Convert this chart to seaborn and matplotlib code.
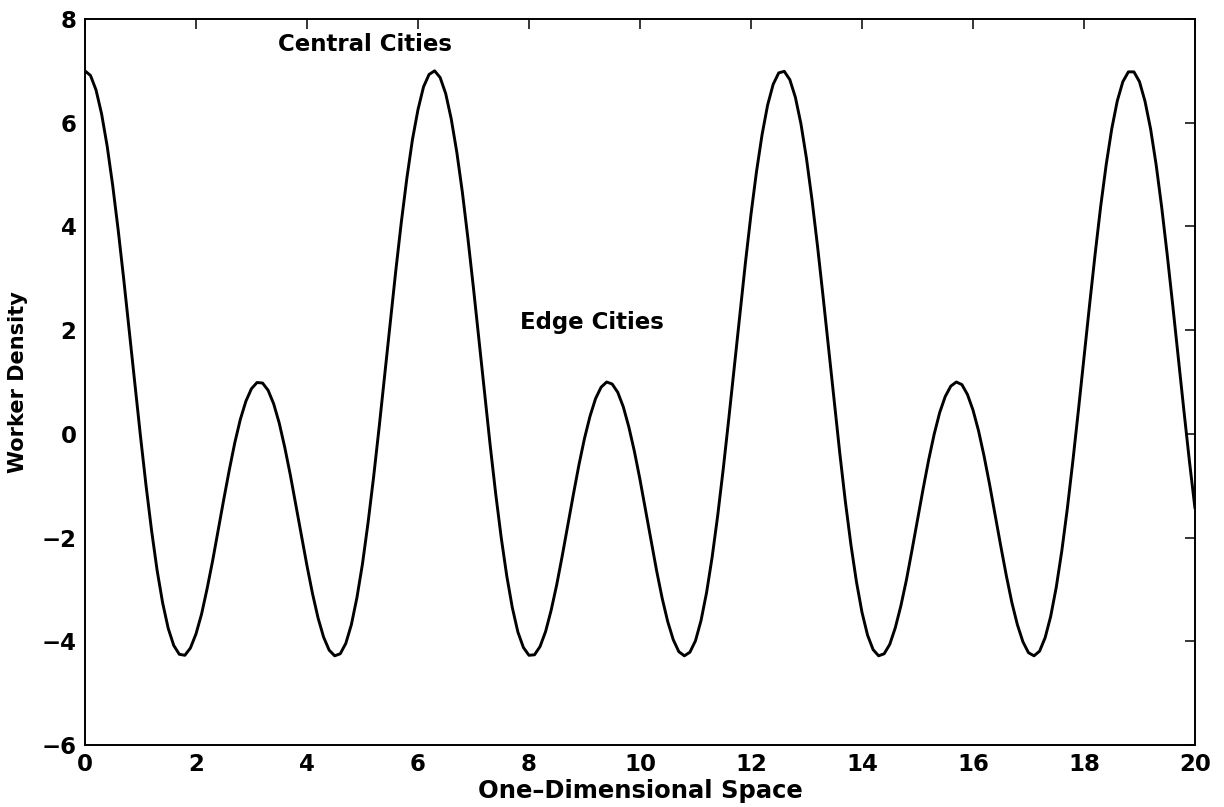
import numpy as np
import pandas as pd
import seaborn as sns
import matplotlib
matplotlib.use('Agg')
import matplotlib.pyplot as plt

# worker density, one value every 0.1 along the space axis
density_a = [7.00, 6.91, 6.63, 6.17, 5.55, 4.79, 3.92, 2.97, 1.97, 0.96,
             -0.04, -0.99, -1.86, -2.63, -3.26, -3.75, -4.08, -4.25, -4.27, -4.13,
             -3.86, -3.48, -2.99, -2.45, -1.86, -1.27, -0.70, -0.17, 0.28, 0.63,
             0.87, 0.99,
             0.98, 0.84, 0.58, 0.21, -0.26, -0.79, -1.37, -1.96, -2.54, -3.08,
             -3.55, -3.92, -4.17, -4.28, -4.24, -4.04, -3.68, -3.16, -2.51, -1.72,
             -0.84, 0.12, 1.13, 2.14, 3.14, 4.08, 4.93, 5.67, 6.25, 6.69,
             6.93]
density_b = [7.00, 6.87, 6.56, 6.07, 5.43, 4.66, 3.77, 2.81, 1.80, 0.79,
             -0.21, -1.15, -2.00, -2.74, -3.35, -3.82, -4.12, -4.27, -4.26, -4.10,
             -3.81, -3.40, -2.91, -2.35, -1.76, -1.17, -0.60, -0.09, 0.34, 0.68,
             0.90, 1.00,
             0.96, 0.80, 0.52, 0.13, -0.34, -0.88, -1.47, -2.06, -2.64, -3.17,
             -3.62, -3.97, -4.20, -4.28, -4.21, -3.99, -3.60, -3.06, -2.38, -1.58,
             -0.68, 0.29, 1.30, 2.31, 3.30, 4.23, 5.06, 5.77, 6.34, 6.74,
             6.96]
density_c = [6.99, 6.83, 6.49, 5.98, 5.31, 4.51, 3.61, 2.64, 1.63, 0.62,
             -0.37, -1.30, -2.13, -2.85, -3.44, -3.88, -4.16, -4.28, -4.24, -4.06,
             -3.74, -3.32, -2.82, -2.25, -1.66, -1.07, -0.51, -0.01, 0.41, 0.72,
             0.92, 1.00,
             0.95, 0.76, 0.46, 0.06, -0.43, -0.98, -1.57, -2.16, -2.73, -3.25,
             -3.68, -4.01, -4.22, -4.28, -4.19, -3.93, -3.52, -2.96, -2.26, -1.44,
             -0.52, 0.46, 1.47, 2.48, 3.46, 4.38, 5.19, 5.88, 6.42, 6.79,
             6.98]
density_d = [6.98, 6.79, 6.41, 5.88, 5.19, 4.37, 3.45, 2.47, 1.46, 0.45,
             -0.53, -1.44]

x_ticks = [0, 2, 4, 6, 8, 10, 12, 14, 16, 18, 20]
y_ticks = [-6, -4, -2, 0, 2, 4, 6, 8]

density = density_a + density_b + density_c + density_d
space = np.linspace(0, 20, len(density))
df = pd.DataFrame({'space': space, 'density': density})

sns.set_style('white')
plt.rcParams['font.family'] = ['DejaVu Sans']
plt.rcParams['font.weight'] = 'bold'
plt.rcParams['axes.labelweight'] = 'bold'
plt.rcParams['text.color'] = 'black'
plt.rcParams['axes.labelcolor'] = 'black'

fig, ax = plt.subplots(figsize=(12.24, 8.07), dpi=100)
fig.subplots_adjust(left=0.0694, right=0.9763, bottom=0.0768, top=0.9765)

sns.lineplot(data=df, x='space', y='density', color='black', linewidth=2.1, ax=ax)

ax.set_xlim(0, 20)
ax.set_ylim(-6, 8)
ax.set_xticks(x_ticks)
ax.set_yticks(y_ticks)
ax.tick_params(direction='in', length=7, width=1.1, top=True, right=True,
               labelsize=16.5, pad=6, colors='black')
for spine in ax.spines.values():
    spine.set_visible(True)
    spine.set_color('black')
    spine.set_linewidth(1.4)

ax.set_xlabel('One\u2013Dimensional Space', fontsize=17.5, labelpad=2, color='black')
ax.set_ylabel('Worker Density', fontsize=15, labelpad=10, color='black')

ax.text(3.48, 7.5, 'Central Cities', fontsize=16.5, fontweight='bold',
        color='black', va='center', ha='left')
ax.text(7.84, 2.15, 'Edge Cities', fontsize=16.5, fontweight='bold',
        color='black', va='center', ha='left')

fig.savefig('out.png', dpi=100, facecolor='white')
